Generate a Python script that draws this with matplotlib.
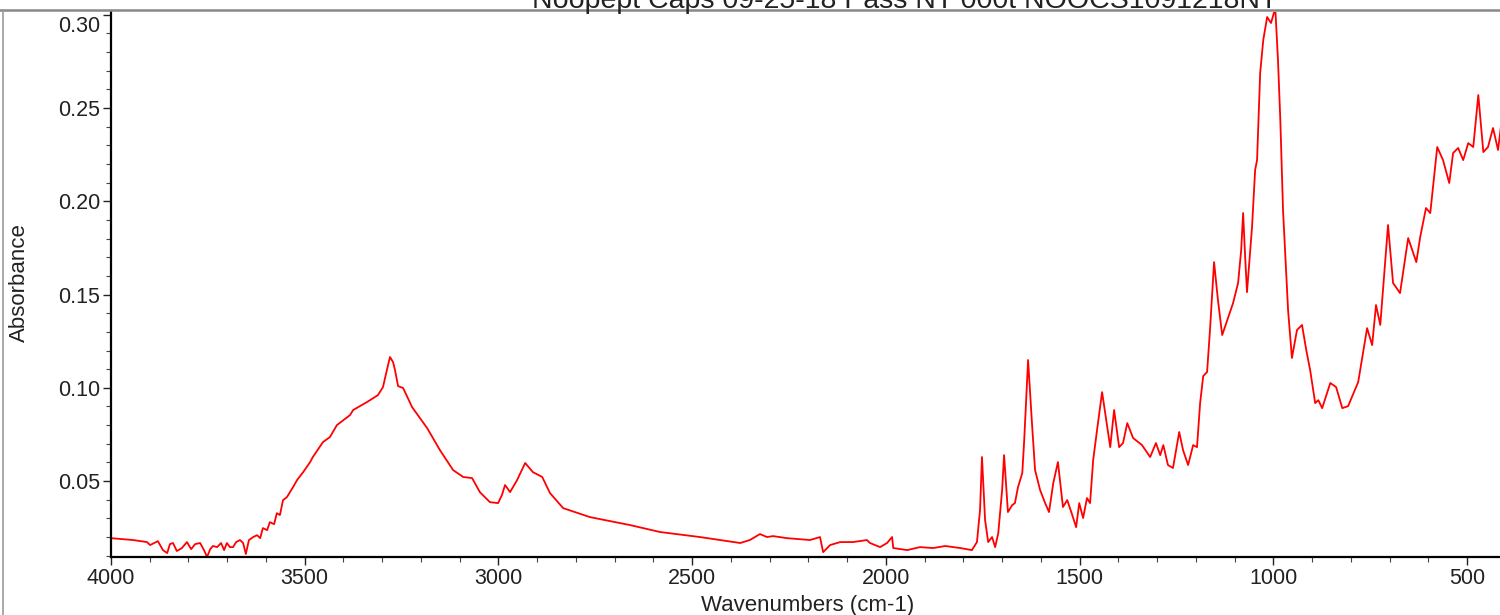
import numpy as np
import matplotlib
matplotlib.use("Agg")
import matplotlib.pyplot as plt
from matplotlib.ticker import MultipleLocator, FormatStrFormatter
from matplotlib.lines import Line2D
import matplotlib.transforms as mtransforms

plt.rcParams['font.family'] = ['Liberation Sans', 'DejaVu Sans']

title = "Noopept Caps 09-25-18 Pass NT 000t NOOCS1091218NT"

# spectrum (wavenumber cm-1, absorbance)
wavenumber = [
    4000, 3943, 3907, 3899, 3879, 3866, 3855, 3848, 3840, 3830,
    3817, 3804, 3793, 3783, 3770, 3760, 3752, 3744, 3737, 3726,
    3716, 3708, 3701, 3693, 3685, 3677, 3667, 3659, 3652, 3644,
    3633, 3623, 3615, 3608, 3597, 3590, 3579, 3572, 3564, 3556,
    3546, 3530, 3520, 3504, 3486, 3479, 3453, 3435, 3417, 3383,
    3375, 3339, 3311, 3298, 3288, 3280, 3272, 3267, 3259, 3246,
    3223, 3184, 3151, 3117, 3091, 3068, 3048, 3022, 3001, 2991,
    2983, 2970, 2952, 2931, 2911, 2887, 2867, 2833, 2764, 2660,
    2583, 2480, 2376, 2351, 2325, 2307, 2291, 2255, 2196, 2170,
    2162, 2144, 2118, 2085, 2049, 2041, 2015, 1997, 1984, 1981,
    1945, 1912, 1878, 1847, 1808, 1778, 1765, 1757, 1752, 1744,
    1736, 1726, 1718, 1710, 1700, 1695, 1685, 1674, 1667, 1659,
    1648, 1643, 1633, 1623, 1615, 1602, 1589, 1579, 1568, 1556,
    1543, 1532, 1519, 1509, 1501, 1491, 1481, 1473, 1465, 1455,
    1442, 1421, 1411, 1398, 1388, 1377, 1362, 1339, 1318, 1303,
    1292, 1284, 1272, 1259, 1243, 1233, 1220, 1207, 1197, 1189,
    1181, 1171, 1163, 1153, 1143, 1132, 1119, 1104, 1091, 1083,
    1078, 1073, 1068, 1055, 1047, 1042, 1034, 1026, 1016, 1006,
    995, 988, 982, 975, 962, 952, 939, 926, 915, 905,
    892, 884, 874, 853, 838, 822, 807, 781, 758, 745,
    735, 724, 704, 691, 673, 652, 631, 621, 606, 595,
    577, 562, 546, 536, 523, 510, 497, 484, 471, 458,
    446, 433, 420, 410,
]
absorbance = [
    0.0194, 0.0184, 0.0173, 0.0157, 0.0178, 0.0130, 0.0114, 0.0162, 0.0168, 0.0125,
    0.0141, 0.0173, 0.0135, 0.0162, 0.0168, 0.0130, 0.0093, 0.0135, 0.0152, 0.0146,
    0.0168, 0.0130, 0.0168, 0.0146, 0.0146, 0.0173, 0.0184, 0.0168, 0.0109, 0.0184,
    0.0200, 0.0210, 0.0194, 0.0248, 0.0237, 0.0280, 0.0269, 0.0328, 0.0318, 0.0398,
    0.0414, 0.0468, 0.0505, 0.0548, 0.0602, 0.0629, 0.0709, 0.0736, 0.0800, 0.0854,
    0.0881, 0.0924, 0.0961, 0.1004, 0.1095, 0.1165, 0.1138, 0.1095, 0.1009, 0.0999,
    0.0897, 0.0784, 0.0666, 0.0559, 0.0522, 0.0516, 0.0441, 0.0387, 0.0382, 0.0425,
    0.0479, 0.0441, 0.0505, 0.0597, 0.0548, 0.0522, 0.0436, 0.0355, 0.0307, 0.0264,
    0.0227, 0.0200, 0.0168, 0.0184, 0.0216, 0.0200, 0.0205, 0.0194, 0.0184, 0.0200,
    0.0119, 0.0157, 0.0173, 0.0173, 0.0184, 0.0168, 0.0146, 0.0168, 0.0200, 0.0141,
    0.0130, 0.0146, 0.0141, 0.0152, 0.0141, 0.0130, 0.0173, 0.0345, 0.0629, 0.0291,
    0.0173, 0.0200, 0.0146, 0.0221, 0.0452, 0.0639, 0.0334, 0.0371, 0.0382, 0.0468,
    0.0543, 0.0720, 0.1149, 0.0811, 0.0559, 0.0452, 0.0382, 0.0334, 0.0489, 0.0602,
    0.0361, 0.0398, 0.0318, 0.0253, 0.0382, 0.0302, 0.0409, 0.0382, 0.0613, 0.0774,
    0.0977, 0.0682, 0.0881, 0.0682, 0.0704, 0.0811, 0.0731, 0.0693, 0.0629, 0.0704,
    0.0639, 0.0693, 0.0586, 0.0570, 0.0763, 0.0666, 0.0586, 0.0693, 0.0682, 0.0918,
    0.1063, 0.1085, 0.1326, 0.1674, 0.1471, 0.1283, 0.1363, 0.1454, 0.1562, 0.1739,
    0.1937, 0.1712, 0.1513, 0.1862, 0.2168, 0.2221, 0.2688, 0.2865, 0.2988, 0.2956,
    0.3036, 0.2757, 0.2436, 0.1953, 0.1417, 0.1160, 0.1310, 0.1337, 0.1202, 0.1095,
    0.0918, 0.0934, 0.0891, 0.1026, 0.1004, 0.0891, 0.0902, 0.1031, 0.1320, 0.1229,
    0.1444, 0.1337, 0.1873, 0.1562, 0.1508, 0.1803, 0.1674, 0.1808, 0.1964, 0.1937,
    0.2291, 0.2221, 0.2098, 0.2259, 0.2286, 0.2221, 0.2312, 0.2291, 0.2570, 0.2264,
    0.2291, 0.2393, 0.2275, 0.2446,
]

fig = plt.figure(figsize=(15, 6.15), dpi=100)
ax = fig.add_axes([111/1500, 1 - 557/615, 1 - 111/1500, (557 - 12)/615])

ax.plot(wavenumber, absorbance, color='#ff0000', lw=1.3)

ax.set_xlim(4000, 415)
ax.set_ylim(0.0093, 0.3015)

ax.xaxis.set_major_locator(MultipleLocator(500))
ax.xaxis.set_minor_locator(MultipleLocator(100))
ax.yaxis.set_major_locator(MultipleLocator(0.05))
ax.yaxis.set_minor_locator(MultipleLocator(0.01))
ax.yaxis.set_major_formatter(FormatStrFormatter('%.2f'))

for s in ['top', 'right']:
    ax.spines[s].set_visible(False)
for s in ['left', 'bottom']:
    ax.spines[s].set_linewidth(1.6)
    ax.spines[s].set_color('black')

ax.tick_params(which='major', direction='out', length=6, width=1, labelsize=15.5, pad=2, colors='#222222')
ax.tick_params(which='minor', direction='out', length=3.5, width=0.8, colors='#444444')

fig.canvas.draw()
# top label pushed down inside the frame, like the source
for lab in ax.get_yticklabels():
    if lab.get_text() == '0.30':
        off = mtransforms.ScaledTranslation(0, -9/100, fig.dpi_scale_trans)
        lab.set_transform(lab.get_transform() + off)

# frame of the exported page
fig.add_artist(Line2D([0, 1], [1 - 10/615, 1 - 10/615], transform=fig.transFigure, color='#888888', lw=1.8))
fig.add_artist(Line2D([3/1500, 3/1500], [0, 1 - 10/615], transform=fig.transFigure, color='#999999', lw=1.2))

fig.text(905/1500, 1 - 7.5/615, title, ha='center', va='baseline', fontsize=20.5, color='#222222')
fig.text(19/1500, 1 - 283/615, "Absorbance", rotation=90, ha='center', va='center', fontsize=16, color='#222222')
fig.text(808/1500, 1 - 605/615, "Wavenumbers (cm-1)", ha='center', va='center', fontsize=16, color='#222222')

fig.savefig("out.png", dpi=100)
